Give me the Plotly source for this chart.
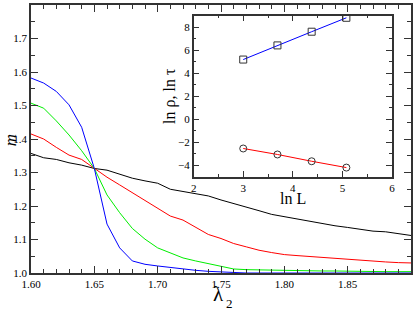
import plotly.graph_objects as go

lam = [1.60, 1.61, 1.62, 1.63, 1.64, 1.65, 1.66, 1.67, 1.68, 1.69, 1.70, 1.71, 1.72, 1.73,
       1.74, 1.75, 1.76, 1.77, 1.78, 1.79, 1.80, 1.81, 1.82, 1.83, 1.84, 1.85, 1.86, 1.87,
       1.88, 1.89, 1.90]
m_black = [1.357, 1.344, 1.339, 1.329, 1.322, 1.312, 1.307, 1.296, 1.283, 1.275, 1.268, 1.250,
           1.243, 1.238, 1.230, 1.218, 1.208, 1.198, 1.186, 1.175, 1.168, 1.162, 1.155, 1.148,
           1.141, 1.136, 1.130, 1.125, 1.123, 1.118, 1.112]
m_red = [1.415, 1.400, 1.375, 1.352, 1.339, 1.312, 1.286, 1.263, 1.240, 1.216, 1.193, 1.170,
         1.158, 1.136, 1.115, 1.103, 1.088, 1.078, 1.068, 1.061, 1.055, 1.052, 1.049, 1.046,
         1.043, 1.040, 1.037, 1.035, 1.033, 1.031, 1.030]
m_green = [1.507, 1.492, 1.454, 1.412, 1.365, 1.312, 1.233, 1.180, 1.133, 1.101, 1.075, 1.060,
           1.045, 1.036, 1.028, 1.022, 1.012, 1.010, 1.009, 1.008, 1.008, 1.007, 1.007, 1.006,
           1.006, 1.005, 1.005, 1.005, 1.004, 1.004, 1.004]
m_blue = [1.582, 1.567, 1.542, 1.502, 1.435, 1.312, 1.146, 1.075, 1.036, 1.026, 1.021, 1.016,
          1.012, 1.008, 1.005, 1.003, 1.001, 1.000, 1.000, 1.000, 1.000, 1.000, 1.000, 1.000,
          1.000, 1.000, 1.000, 1.000, 1.000, 1.000, 1.000]

lnL = [3.00, 3.69, 4.38, 5.08]
ln_tau = [5.19, 6.42, 7.61, 8.82]
ln_rho = [-2.54, -3.06, -3.65, -4.20]

x_ticks = [1.60, 1.65, 1.70, 1.75, 1.80, 1.85]
y_ticks = [1.0, 1.1, 1.2, 1.3, 1.4, 1.5, 1.6, 1.7, 1.8]
ix_ticks = [2, 3, 4, 5, 6]
iy_ticks = [-4, -2, 0, 2, 4, 6, 8]

FONT = "Liberation Serif, Times New Roman, serif"

fig = go.Figure()
for ys, col in [(m_black, "black"), (m_red, "red"), (m_green, "#00ee00"), (m_blue, "blue")]:
    fig.add_trace(go.Scatter(x=lam, y=ys, mode="lines", line=dict(color=col, width=1),
                             xaxis="x", yaxis="y", showlegend=False))

fig.add_trace(go.Scatter(x=lnL, y=ln_tau, mode="lines+markers", xaxis="x2", yaxis="y2",
                         line=dict(color="blue", width=1),
                         marker=dict(symbol="square-open", size=7, color="#333333",
                                     line=dict(width=1)),
                         showlegend=False))
fig.add_trace(go.Scatter(x=lnL, y=ln_rho, mode="lines+markers", xaxis="x2", yaxis="y2",
                         line=dict(color="red", width=1),
                         marker=dict(symbol="circle-open", size=7, color="#333333",
                                     line=dict(width=1)),
                         showlegend=False))

axis_common = dict(showgrid=False, zeroline=False, showline=True, linecolor="#333333",
                   linewidth=1.5, mirror="allticks", ticks="inside", tickcolor="#333333",
                   tickwidth=1, tickfont=dict(family=FONT, size=11, color="black"))

fig.update_layout(
    width=415, height=311,
    margin=dict(l=31, r=1, t=5, b=38),
    paper_bgcolor="white", plot_bgcolor="white",
    font=dict(family=FONT),
    xaxis=dict(range=[1.6, 1.9], tickvals=x_ticks, ticktext=[f"{v:.2f}" for v in x_ticks],
               ticklen=7, minor=dict(dtick=0.01, ticks="inside", ticklen=4,
                                     tickcolor="#333333", tickwidth=1),
               domain=[0, 1], **axis_common),
    yaxis=dict(range=[1.0, 1.8], tickvals=y_ticks, ticktext=[f"{v:.1f}" for v in y_ticks],
               ticklen=7, minor=dict(dtick=0.05, ticks="inside", ticklen=4,
                                     tickcolor="#333333", tickwidth=1),
               domain=[0, 1], **axis_common),
    xaxis2=dict(range=[2, 6], tickvals=ix_ticks, ticklen=6, anchor="y2",
                minor=dict(dtick=0.5, ticks="inside", ticklen=3, tickcolor="#333333",
                           tickwidth=1),
                domain=[0.428, 0.950], **axis_common),
    yaxis2=dict(range=[-5, 9], tickvals=iy_ticks, ticklen=6, anchor="x2",
                minor=dict(dtick=1, ticks="inside", ticklen=3, tickcolor="#333333",
                           tickwidth=1),
                domain=[0.359, 0.960], **axis_common),
    shapes=[dict(type="rect", xref="x2 domain", yref="y2 domain", x0=0, x1=1, y0=0, y1=1,
                 fillcolor="white", line=dict(width=0), layer="below")],
    annotations=[
        dict(text="<i>m</i>", xref="paper", yref="paper", x=(10 - 31) / 383, y=(273 - 140) / 268,
             showarrow=False, textangle=-90, font=dict(family=FONT, size=17, color="black"),
             xanchor="center", yanchor="middle"),
        dict(text="λ", xref="paper", yref="paper", x=(220 - 31) / 383, y=(273 - 294) / 268,
             showarrow=False, font=dict(family=FONT, size=21, color="black"),
             xanchor="center", yanchor="middle"),
        dict(text="2", xref="paper", yref="paper", x=(231.5 - 31) / 383, y=(273 - 303) / 268,
             showarrow=False, font=dict(family=FONT, size=13, color="black"),
             xanchor="center", yanchor="middle"),
        dict(text="ln ρ, ln τ", xref="paper", yref="paper", x=(171 - 31) / 383,
             y=(273 - 96) / 268, showarrow=False, textangle=-90,
             font=dict(family=FONT, size=16, color="black"),
             xanchor="center", yanchor="middle"),
        dict(text="ln L", xref="paper", yref="paper", x=(295 - 31) / 383,
             y=(273 - 198) / 268, showarrow=False,
             font=dict(family=FONT, size=16, color="black"),
             xanchor="center", yanchor="middle"),
    ],
)

fig.write_html("out.html", config={"displayModeBar": False},
               post_script="document.body.style.margin='0';")
